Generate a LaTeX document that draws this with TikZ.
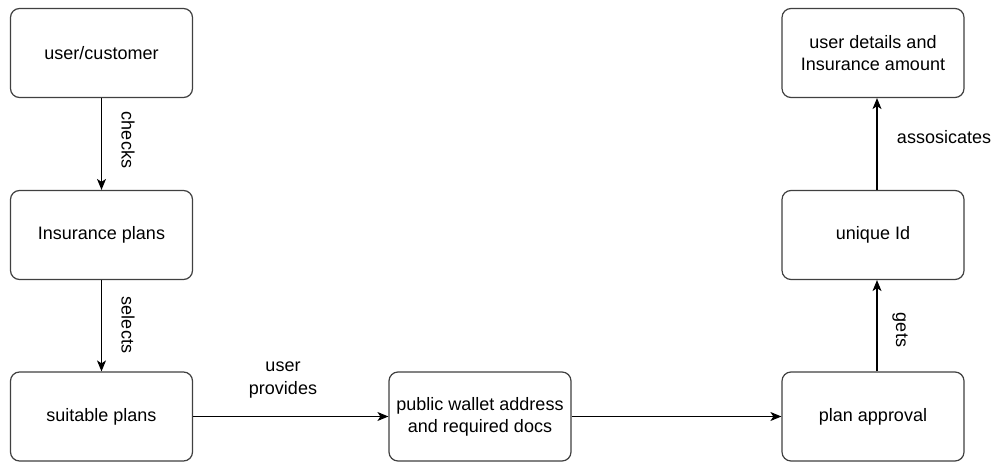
\documentclass[tikz,border=0pt]{standalone}
\usepackage{fontspec}
\setmainfont{Liberation Sans}
\usetikzlibrary{arrows.meta}
\begin{document}
\begin{tikzpicture}[x=1pt,y=-1pt,
  box/.style={draw=black!75,line width=1.2pt,rounded corners=9pt,fill=white,
    minimum width=182pt,minimum height=89pt,align=center,inner sep=2pt,
    font=\fontsize{18}{22}\selectfont},
  conn/.style={line width=1.1pt,-{Stealth[length=11pt,width=9pt,inset=3pt]}},
  lbl/.style={font=\fontsize{18}{23}\selectfont,align=center,inner sep=0pt}]
\useasboundingbox (0,0) rectangle (995,462);
% left column
\node[box] (user)   at (101.5,53)  {user/customer};
\node[box] (plans)  at (101.5,235) {Insurance plans};
\node[box] (suit)   at (101.5,416.5) {suitable plans};
% middle
\node[box] (wallet) at (480,416.5) {public wallet address\\and required docs};
% right column
\node[box] (appr)   at (873,416.5) {plan approval};
\node[box] (uid)    at (873,235) {unique Id};
\node[box] (det)    at (873,53)  {user details and\\Insurance amount};
% connectors
\draw[conn] (user) -- (plans);
\draw[conn] (plans) -- (suit);
\draw[conn] (suit) -- (wallet);
\draw[conn] (wallet) -- (appr);
\draw[conn] (appr.north -| 877,0) -- (uid.south -| 877,0);
\draw[conn] (uid.north -| 877,0) -- (det.south -| 877,0);
% labels
\node[lbl,rotate=-90] (lchecks)  at (128,140) {checks};
\node[lbl,rotate=-90] (lselects) at (128,325) {selects};
\node[lbl] (lprov) at (283,380) {user\\provides};
\node[lbl,rotate=-90] (lgets) at (900,330) {gets};
\node[lbl] (lassoc) at (944,137) {assosicates};
\end{tikzpicture}
\end{document}
